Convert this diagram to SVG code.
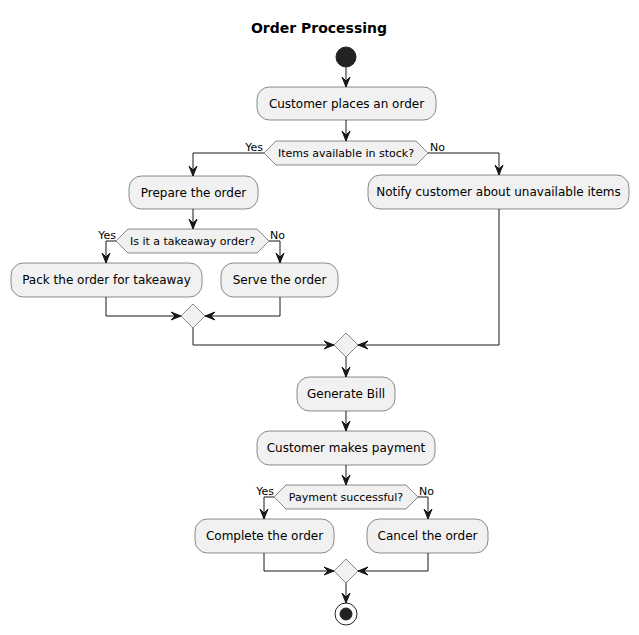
<svg xmlns="http://www.w3.org/2000/svg" width="639" height="635" viewBox="0 0 639 635">
<style>
.bg{fill:#FFFFFF}
.box{fill:#F1F1F1;stroke:#181818;stroke-width:0.5}
.t{font-family:"DejaVu Sans",sans-serif;font-size:12px;fill:#000;text-anchor:middle}
.d{font-family:"DejaVu Sans",sans-serif;font-size:11px;fill:#000;text-anchor:middle}
.l{font-family:"DejaVu Sans",sans-serif;font-size:11px;fill:#000}
.ln{fill:none;stroke:#181818;stroke-width:1}
.ah{fill:#181818;stroke:#181818;stroke-width:1}
</style>
<rect class="bg" x="0" y="0" width="639" height="635"/>
<text x="319" y="33" style="font-family:'DejaVu Sans',sans-serif;font-size:14px;font-weight:bold;text-anchor:middle">Order Processing</text>

<g id="connectors">
<path class="ln" d="M346,67 V87"/><polygon class="ah" points="342,77 346,87 350,77 346,81"/>
<path class="ln" d="M346,120 V141"/><polygon class="ah" points="342,131 346,141 350,131 346,135"/>
<path class="ln" d="M264,153 H193 V176"/><polygon class="ah" points="189,166 193,176 197,166 193,170"/>
<path class="ln" d="M428,153 H499 V175"/><polygon class="ah" points="495,165 499,175 503,165 499,169"/>
<path class="ln" d="M193,209 V229"/><polygon class="ah" points="189,219 193,229 197,219 193,223"/>
<path class="ln" d="M116,241 H106 V263"/><polygon class="ah" points="102,253 106,263 110,253 106,257"/>
<path class="ln" d="M269,241 H280 V263"/><polygon class="ah" points="276,253 280,263 284,253 280,257"/>
<path class="ln" d="M106,297 V316 H181"/><polygon class="ah" points="171,312 181,316 171,320 175,316"/>
<path class="ln" d="M280,297 V316 H205"/><polygon class="ah" points="215,312 205,316 215,320 211,316"/>
<path class="ln" d="M193,328 V345 H334"/><polygon class="ah" points="324,341 334,345 324,349 328,345"/>
<path class="ln" d="M499,209 V345 H358"/><polygon class="ah" points="368,341 358,345 368,349 364,345"/>
<path class="ln" d="M346,357 V377"/><polygon class="ah" points="342,367 346,377 350,367 346,371"/>
<path class="ln" d="M346,411 V431"/><polygon class="ah" points="342,421 346,431 350,421 346,425"/>
<path class="ln" d="M346,465 V485"/><polygon class="ah" points="342,475 346,485 350,475 346,479"/>
<path class="ln" d="M274,497 H264 V519"/><polygon class="ah" points="260,509 264,519 268,509 264,513"/>
<path class="ln" d="M418,497 H428 V519"/><polygon class="ah" points="424,509 428,519 432,509 428,513"/>
<path class="ln" d="M264,553 V571 H334"/><polygon class="ah" points="324,567 334,571 324,575 328,571"/>
<path class="ln" d="M428,553 V571 H358"/><polygon class="ah" points="368,567 358,571 368,575 364,571"/>
<path class="ln" d="M346,583 V603"/><polygon class="ah" points="342,593 346,603 350,593 346,597"/>
</g>

<g id="start"><circle cx="346" cy="57" r="10" fill="#222222" stroke="#222222"/></g>

<g id="n1"><rect class="box" x="257" y="87" width="179" height="33" rx="12.5"/><text class="t" x="346.5" y="108">Customer places an order</text></g>

<g id="d1"><polygon class="box" points="264,153 276,141 416,141 428,153 416,165 276,165"/><text class="d" x="346" y="157">Items available in stock?</text>
<text class="l" x="263" y="151" text-anchor="end">Yes</text><text class="l" x="430" y="151">No</text></g>

<g id="n2"><rect class="box" x="129" y="176" width="129" height="33" rx="12.5"/><text class="t" x="193.5" y="197">Prepare the order</text></g>

<g id="n3"><rect class="box" x="368" y="175" width="261" height="34" rx="12.5"/><text class="t" x="498.5" y="196">Notify customer about unavailable items</text></g>

<g id="d2"><polygon class="box" points="116,241 128,229 257,229 269,241 257,253 128,253"/><text class="d" x="192.5" y="245">Is it a takeaway order?</text>
<text class="l" x="116" y="239" text-anchor="end">Yes</text><text class="l" x="270" y="239">No</text></g>

<g id="n4"><rect class="box" x="11" y="263" width="191" height="34" rx="12.5"/><text class="t" x="106.5" y="284">Pack the order for takeaway</text></g>

<g id="n5"><rect class="box" x="221" y="263" width="117" height="34" rx="12.5"/><text class="t" x="279.5" y="284">Serve the order</text></g>

<g id="m1"><polygon class="box" points="193,304 205,316 193,328 181,316"/></g>

<g id="m2"><polygon class="box" points="346,333 358,345 346,357 334,345"/></g>

<g id="n6"><rect class="box" x="297" y="377" width="98" height="34" rx="12.5"/><text class="t" x="346" y="398">Generate Bill</text></g>

<g id="n7"><rect class="box" x="257" y="431" width="178" height="34" rx="12.5"/><text class="t" x="346" y="452">Customer makes payment</text></g>

<g id="d3"><polygon class="box" points="274,497 286,485 406,485 418,497 406,509 286,509"/><text class="d" x="346" y="501">Payment successful?</text>
<text class="l" x="274" y="495" text-anchor="end">Yes</text><text class="l" x="419" y="495">No</text></g>

<g id="n8"><rect class="box" x="195" y="519" width="139" height="34" rx="12.5"/><text class="t" x="264.5" y="540">Complete the order</text></g>

<g id="n9"><rect class="box" x="367" y="519" width="121" height="34" rx="12.5"/><text class="t" x="427.5" y="540">Cancel the order</text></g>

<g id="m3"><polygon class="box" points="346,559 358,571 346,583 334,571"/></g>

<g id="end"><circle cx="346" cy="614" r="11" fill="none" stroke="#222222" stroke-width="1"/><circle cx="346" cy="614" r="6" fill="#222222" stroke="#222222"/></g>
</svg>
